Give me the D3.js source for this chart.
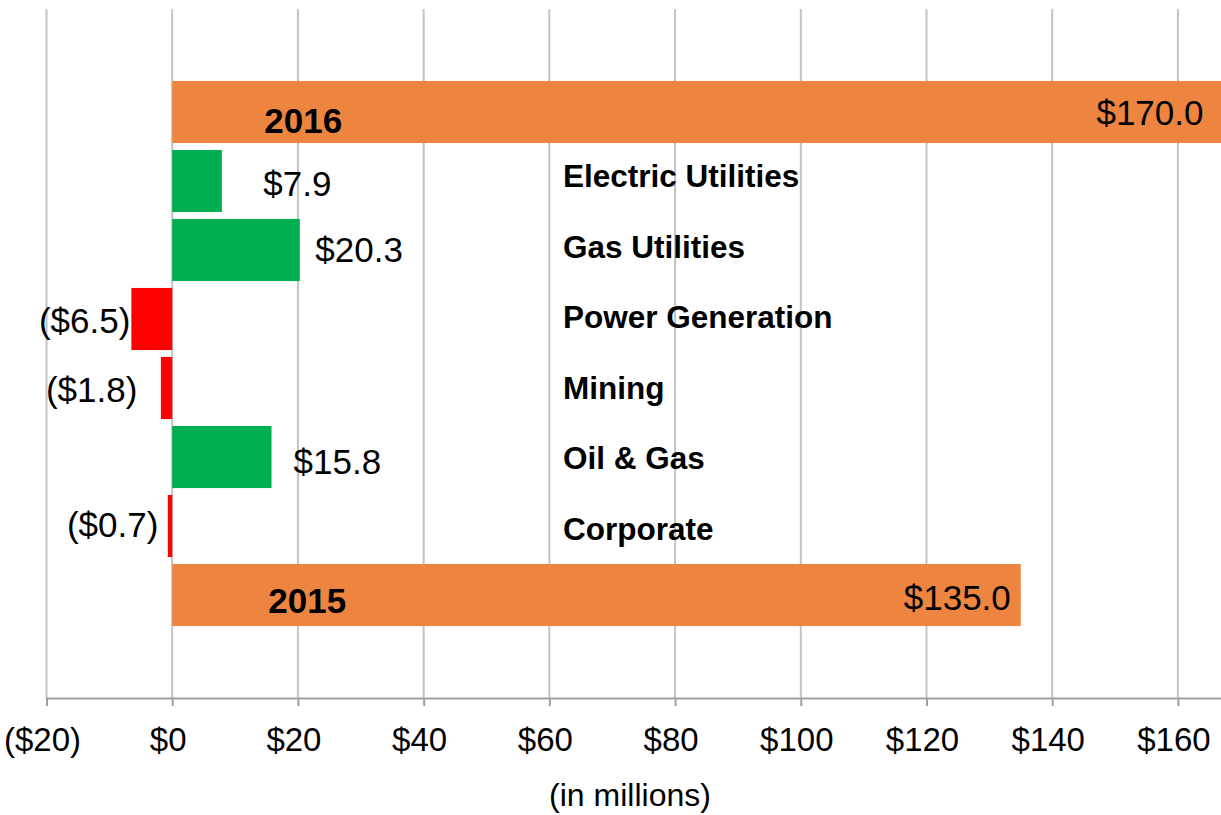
<!DOCTYPE html>
<html>
<head>
<meta charset="utf-8">
<script src="https://cdn.jsdelivr.net/npm/d3@7"></script>
<style>
  body { margin: 0; background: #ffffff; }
  text { font-family: "Liberation Sans", Arial, sans-serif; fill: #000000; }
</style>
</head>
<body>
<div id="container"></div>
<script>
/* DATA */
const years = ["2016", "2015"];
const yearTotals = [170.0, 135.0];
const segments = ["Electric Utilities", "Gas Utilities", "Power Generation", "Mining", "Oil & Gas", "Corporate"];
const segmentChanges = [7.9, 20.3, -6.5, -1.8, 15.8, -0.7];
const tickValues = [-20, 0, 20, 40, 60, 80, 100, 120, 140, 160];
const axisTitle = "(in millions)";

/* LAYOUT (hand placed like the original labels) */
const width = 1221;
const height = 815;
const axisY = 698;
const gridTop = 9;
const valueLabelDx = [41.5, 15.5, 1, 23.5, 22, 9.5];
const valueLabelDy = [14.5, 11.5, 14, 13.5, 17, 11];
const totalLabelDx = [-37, -10];
const totalLabelDy = [12.5, 14.5];
const yearLabelDx = [131, 135];
const yearLabelDy = [21, 18];
const categoryLabelX = 563;

const colors = { total: "#ED8541", up: "#00B050", down: "#FF0000", grid: "#C3C3C3", axis: "#A0A0A0" };

const fmt = v => v < 0 ? `($${Math.abs(v).toFixed(1)})` : `$${v.toFixed(1)}`;
const tickFmt = v => v < 0 ? `($${Math.abs(v)})` : `$${v}`;

const svg = d3.select("#container")
  .append("svg")
  .attr("width", width)
  .attr("height", height)
  .style("display", "block");

/* SCALES */
const xScale = d3.scaleLinear()
  .domain([-20, 166.85])
  .range([46.5, width]);

const rows = [years[0], ...segments, years[1]];
const yScale = d3.scaleBand()
  .domain(rows)
  .range([77.5, 629.5])
  .paddingInner(0.1)
  .paddingOuter(0.05);

const labelY = d3.scalePoint()
  .domain(segments)
  .range([187, 540]);

/* GRIDLINES */
svg.append("g")
  .selectAll("line")
  .data(tickValues)
  .join("line")
  .attr("x1", d => xScale(d))
  .attr("x2", d => xScale(d))
  .attr("y1", gridTop)
  .attr("y2", axisY)
  .attr("stroke", colors.grid)
  .attr("stroke-width", 2);

/* X-AXIS */
const xAxis = svg.append("g")
  .attr("transform", `translate(0,${axisY})`)
  .call(d3.axisBottom(xScale)
    .tickValues(tickValues)
    .tickFormat(tickFmt)
    .tickSizeInner(8)
    .tickSizeOuter(0));

xAxis.select(".domain").attr("stroke", colors.axis).attr("stroke-width", 2);
xAxis.selectAll(".tick line").attr("stroke", colors.axis).attr("stroke-width", 2);
xAxis.selectAll(".tick text")
  .attr("y", 53)
  .attr("dy", null)
  .attr("dx", -4.5)
  .style("font-size", "33px")
  .style("font-family", "'Liberation Sans', Arial, sans-serif")
  .attr("fill", "#000");

svg.append("text")
  .attr("x", 630)
  .attr("y", 806)
  .attr("text-anchor", "middle")
  .style("font-size", "32px")
  .text(axisTitle);

/* TOTAL BARS */
const totals = years.map((y, i) => ({ year: y, value: yearTotals[i], i }));

svg.selectAll(".total")
  .data(totals)
  .join("rect")
  .attr("class", "total")
  .attr("x", xScale(0))
  .attr("y", d => yScale(d.year))
  .attr("width", d => xScale(d.value) - xScale(0))
  .attr("height", yScale.bandwidth())
  .attr("fill", colors.total);

svg.selectAll(".year-label")
  .data(totals)
  .join("text")
  .attr("class", "year-label")
  .attr("x", d => xScale(0) + yearLabelDx[d.i])
  .attr("y", d => yScale(d.year) + yScale.bandwidth() / 2 + yearLabelDy[d.i])
  .attr("text-anchor", "middle")
  .style("font-size", "35px")
  .style("font-weight", "bold")
  .text(d => d.year);

// the 2016 bar runs past the plot edge, so its label sits at the visible end
svg.selectAll(".total-label")
  .data(totals)
  .join("text")
  .attr("class", "total-label")
  .attr("x", d => Math.min(xScale(d.value), width) + (xScale(d.value) > width ? -17.5 : totalLabelDx[d.i]))
  .attr("y", d => yScale(d.year) + yScale.bandwidth() / 2 + totalLabelDy[d.i])
  .attr("text-anchor", "end")
  .style("font-size", "35px")
  .text(d => fmt(d.value));

/* SEGMENT BARS */
const changes = segments.map((s, i) => ({ segment: s, value: segmentChanges[i], i }));

svg.selectAll(".bar")
  .data(changes)
  .join("rect")
  .attr("class", "bar")
  .attr("x", d => xScale(Math.min(0, d.value)))
  .attr("y", d => yScale(d.segment))
  .attr("width", d => Math.abs(xScale(d.value) - xScale(0)))
  .attr("height", yScale.bandwidth())
  .attr("fill", d => d.value < 0 ? colors.down : colors.up);

svg.selectAll(".value-label")
  .data(changes)
  .join("text")
  .attr("class", "value-label")
  .attr("x", d => d.value < 0 ? xScale(d.value) - valueLabelDx[d.i] : xScale(d.value) + valueLabelDx[d.i])
  .attr("y", d => yScale(d.segment) + yScale.bandwidth() / 2 + valueLabelDy[d.i])
  .attr("text-anchor", d => d.value < 0 ? "end" : "start")
  .style("font-size", "35px")
  .text(d => fmt(d.value));

svg.selectAll(".category-label")
  .data(segments)
  .join("text")
  .attr("class", "category-label")
  .attr("x", categoryLabelX)
  .attr("y", d => labelY(d))
  .style("font-size", "31.5px")
  .style("font-weight", "bold")
  .text(d => d);
</script>
</body>
</html>
